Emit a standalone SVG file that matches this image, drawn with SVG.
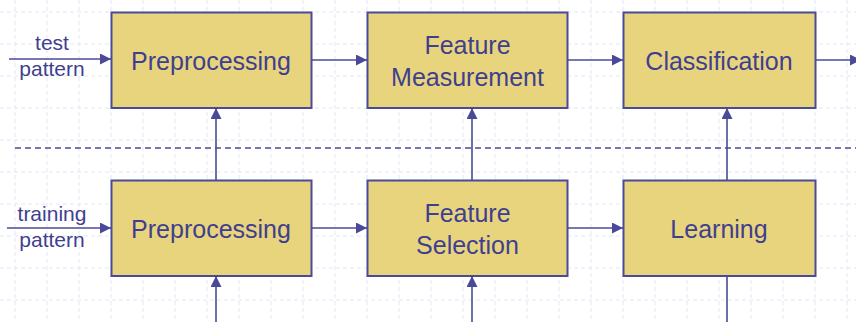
<svg xmlns="http://www.w3.org/2000/svg" width="856" height="322" viewBox="0 0 856 322">
  <defs>
    <style>
      .grid line { stroke: #e3e7f7; stroke-width: 1; stroke-dasharray: 4 3; }
      .box rect { fill: #e9d47e; stroke: #4a4a98; stroke-width: 2; }
      .box text, .label { font-family: "Liberation Sans", Arial, sans-serif; fill: #3f3f8f; text-anchor: middle; }
      .box text { font-size: 25px; }
      .label { font-size: 21px; }
      .conn line { stroke: #4a4a98; stroke-width: 1.6; }
      .sep { stroke: #4a4a98; stroke-width: 1.4; stroke-dasharray: 6 4; }
    </style>
    <marker id="arrow" viewBox="0 0 11 11" refX="11" refY="5.5" markerWidth="11" markerHeight="11" markerUnits="userSpaceOnUse" orient="auto">
      <path d="M0,0 L11,5.5 L0,11 z" fill="#4a4a98"/>
    </marker>
  </defs>

  <rect x="0" y="0" width="856" height="322" fill="#ffffff"/>

  <!-- background grid -->
  <g class="grid">
    <line x1="15" y1="0" x2="15" y2="322"/>
    <line x1="47" y1="0" x2="47" y2="322"/>
    <line x1="79" y1="0" x2="79" y2="322"/>
    <line x1="111" y1="0" x2="111" y2="322"/>
    <line x1="143" y1="0" x2="143" y2="322"/>
    <line x1="175" y1="0" x2="175" y2="322"/>
    <line x1="207" y1="0" x2="207" y2="322"/>
    <line x1="239" y1="0" x2="239" y2="322"/>
    <line x1="271" y1="0" x2="271" y2="322"/>
    <line x1="303" y1="0" x2="303" y2="322"/>
    <line x1="335" y1="0" x2="335" y2="322"/>
    <line x1="367" y1="0" x2="367" y2="322"/>
    <line x1="399" y1="0" x2="399" y2="322"/>
    <line x1="431" y1="0" x2="431" y2="322"/>
    <line x1="463" y1="0" x2="463" y2="322"/>
    <line x1="495" y1="0" x2="495" y2="322"/>
    <line x1="527" y1="0" x2="527" y2="322"/>
    <line x1="559" y1="0" x2="559" y2="322"/>
    <line x1="591" y1="0" x2="591" y2="322"/>
    <line x1="623" y1="0" x2="623" y2="322"/>
    <line x1="655" y1="0" x2="655" y2="322"/>
    <line x1="687" y1="0" x2="687" y2="322"/>
    <line x1="719" y1="0" x2="719" y2="322"/>
    <line x1="751" y1="0" x2="751" y2="322"/>
    <line x1="783" y1="0" x2="783" y2="322"/>
    <line x1="815" y1="0" x2="815" y2="322"/>
    <line x1="847" y1="0" x2="847" y2="322"/>
    <line x1="0" y1="12" x2="856" y2="12"/>
    <line x1="0" y1="44" x2="856" y2="44"/>
    <line x1="0" y1="76" x2="856" y2="76"/>
    <line x1="0" y1="108" x2="856" y2="108"/>
    <line x1="0" y1="140" x2="856" y2="140"/>
    <line x1="0" y1="172" x2="856" y2="172"/>
    <line x1="0" y1="204" x2="856" y2="204"/>
    <line x1="0" y1="236" x2="856" y2="236"/>
    <line x1="0" y1="268" x2="856" y2="268"/>
    <line x1="0" y1="300" x2="856" y2="300"/>
  </g>

  <!-- separator between test and training paths -->
  <line class="sep" x1="15" y1="148" x2="856" y2="148"/>

  <!-- input labels -->
  <text class="label" x="52" y="50">test</text>
  <text class="label" x="52" y="76">pattern</text>
  <text class="label" x="52" y="221">training</text>
  <text class="label" x="52" y="247">pattern</text>

  <!-- connectors -->
  <g class="conn">
    <line x1="9" y1="59" x2="111" y2="59" marker-end="url(#arrow)"/>
    <line x1="312" y1="60" x2="367" y2="60" marker-end="url(#arrow)"/>
    <line x1="568" y1="60" x2="623" y2="60" marker-end="url(#arrow)"/>
    <line x1="815" y1="60" x2="861" y2="60" marker-end="url(#arrow)"/>
    <line x1="7" y1="228" x2="111" y2="228" marker-end="url(#arrow)"/>
    <line x1="312" y1="228" x2="367" y2="228" marker-end="url(#arrow)"/>
    <line x1="568" y1="228" x2="623" y2="228" marker-end="url(#arrow)"/>
    <line x1="216" y1="180" x2="216" y2="108" marker-end="url(#arrow)"/>
    <line x1="472" y1="180" x2="472" y2="108" marker-end="url(#arrow)"/>
    <line x1="727" y1="180" x2="727" y2="108" marker-end="url(#arrow)"/>
    <line x1="216" y1="322" x2="216" y2="276" marker-end="url(#arrow)"/>
    <line x1="472" y1="322" x2="472" y2="276" marker-end="url(#arrow)"/>
    <line x1="727" y1="276" x2="727" y2="322"/>
  </g>

  <!-- test path -->
  <g id="preprocessing-test" class="box">
    <rect x="111.5" y="12.5" width="200" height="95.5"/>
    <text x="211" y="70">Preprocessing</text>
  </g>
  <g id="feature-measurement" class="box">
    <rect x="367.5" y="12.5" width="200" height="95.5"/>
    <text x="467.5" y="54">Feature</text>
    <text x="467.5" y="86">Measurement</text>
  </g>
  <g id="classification" class="box">
    <rect x="623.5" y="12.5" width="192" height="95.5"/>
    <text x="719" y="70">Classification</text>
  </g>

  <!-- training path -->
  <g id="preprocessing-train" class="box">
    <rect x="111.5" y="180.5" width="200" height="95.5"/>
    <text x="211" y="238">Preprocessing</text>
  </g>
  <g id="feature-selection" class="box">
    <rect x="367.5" y="180.5" width="200" height="95.5"/>
    <text x="467.5" y="222">Feature</text>
    <text x="467.5" y="254">Selection</text>
  </g>
  <g id="learning" class="box">
    <rect x="623.5" y="180.5" width="192" height="95.5"/>
    <text x="719" y="238">Learning</text>
  </g>
</svg>
